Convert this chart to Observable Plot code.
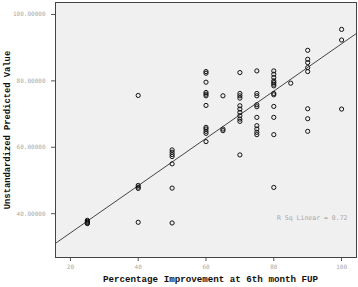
<!DOCTYPE html>
<html>
<head>
<meta charset="utf-8">
<script src="https://cdn.jsdelivr.net/npm/d3@7"></script>
<script src="https://cdn.jsdelivr.net/npm/@observablehq/plot@0.6"></script>
<style>
  html, body { margin: 0; padding: 0; background: #ffffff; }
  #chart svg { display: block; }
</style>
</head>
<body>
<div id="chart"></div>
<script>
// Percentage improvement (x) and unstandardized predicted value (y)
const improvement = [
  25, 25, 25, 25, 25,
  40, 40, 40, 40, 40,
  50, 50, 50, 50, 50, 50, 50,
  60, 60, 60, 60, 60, 60, 60, 60, 60, 60, 60, 60,
  65, 65, 65,
  70, 70, 70, 70, 70, 70, 70, 70, 70, 70, 70,
  75, 75, 75, 75, 75, 75, 75, 75, 75, 75,
  80, 80, 80, 80, 80, 80, 80, 80, 80, 80, 80, 80, 80,
  85,
  90, 90, 90, 90, 90, 90, 90, 90,
  100, 100, 100
];
const predicted = [
  37.0, 37.4, 37.7, 38.0, 37.2,
  75.6, 48.5, 48.0, 47.6, 37.4,
  59.2, 58.5, 57.8, 57.2, 55.0, 47.7, 37.2,
  82.8, 82.3, 79.6, 76.5, 76.0, 75.5, 72.6, 66.0, 65.5, 64.8, 64.2, 61.7,
  75.5, 65.5, 65.0,
  82.5, 76.2, 75.5, 74.8, 72.5, 71.5, 70.5, 69.5, 68.5, 67.8, 57.7,
  83.0, 76.2, 75.5, 72.8, 72.2, 69.0, 66.5, 65.5, 64.5, 63.8,
  83.0, 82.0, 81.0, 80.0, 79.5, 79.0, 78.5, 76.2, 75.8, 72.3, 69.0, 63.8, 47.9,
  79.3,
  89.2, 86.5, 85.5, 84.0, 82.8, 71.6, 68.6, 64.8,
  95.5, 92.3, 71.5
];
// Fit line (intercept, slope) and its R squared
const fitIntercept = 19.96;
const fitSlope = 0.712;
const rSquared = "R Sq Linear = 0.72";
const xTicks = [20, 40, 60, 80, 100];
const yTicks = [40, 60, 80, 100];
const xDomain = [15.6, 104.4];
const yDomain = [26.8, 103.6];
const xTitle = "Percentage Improvement at 6th month FUP";
const yTitle = "Unstandardized Predicted Value";

const points = improvement.map((x, i) => ({x, y: predicted[i]}));
const fitLine = xDomain.map(x => ({x, y: fitIntercept + fitSlope * x}));

const chart = Plot.plot({
  width: 358,
  height: 287,
  marginLeft: 55,
  marginRight: 2,
  marginTop: 2,
  marginBottom: 30,
  style: {background: "#ffffff", overflow: "visible"},
  x: {domain: xDomain, ticks: xTicks},
  y: {domain: yDomain, ticks: yTicks},
  marks: [
    Plot.frame({fill: "#f0f0f0", stroke: null}),
    Plot.axisX({ticks: xTicks, tickSize: 4, tickPadding: 3, label: null,
      fontSize: 6, fontFamily: "DejaVu Sans Mono", fill: "#a8a8a8", stroke: "#555"}),
    Plot.axisY({ticks: yTicks, tickSize: 4, tickPadding: 6, label: null,
      tickFormat: d => d.toFixed(5),
      fontSize: 6, fontFamily: "DejaVu Sans Mono", fill: "#a8a8a8", stroke: "#555"}),
    Plot.line(fitLine, {x: "x", y: "y", stroke: "#444", strokeWidth: 1, clip: true}),
    Plot.dot(points, {x: "x", y: "y", r: 2.1, stroke: "#111", strokeWidth: 1, fill: "none"}),
    Plot.text([rSquared], {frameAnchor: "bottom-right", dx: -9, dy: -38,
      fontSize: 6.5, fontFamily: "DejaVu Sans Mono", fill: "#a8a8a8"}),
    Plot.frame({stroke: "#444", strokeWidth: 1}),
    Plot.text([xTitle], {frameAnchor: "bottom", dy: 24, dx: 4.5,
      fontSize: 9.2, fontWeight: "bold", fontFamily: "Liberation Mono", fill: "#111"}),
    Plot.text([yTitle], {frameAnchor: "left", textAnchor: "middle", dx: -48, rotate: -90,
      fontSize: 8.8, fontWeight: "bold", fontFamily: "Liberation Mono", fill: "#111"})
  ]
});
document.getElementById("chart").appendChild(chart);
</script>
</body>
</html>
